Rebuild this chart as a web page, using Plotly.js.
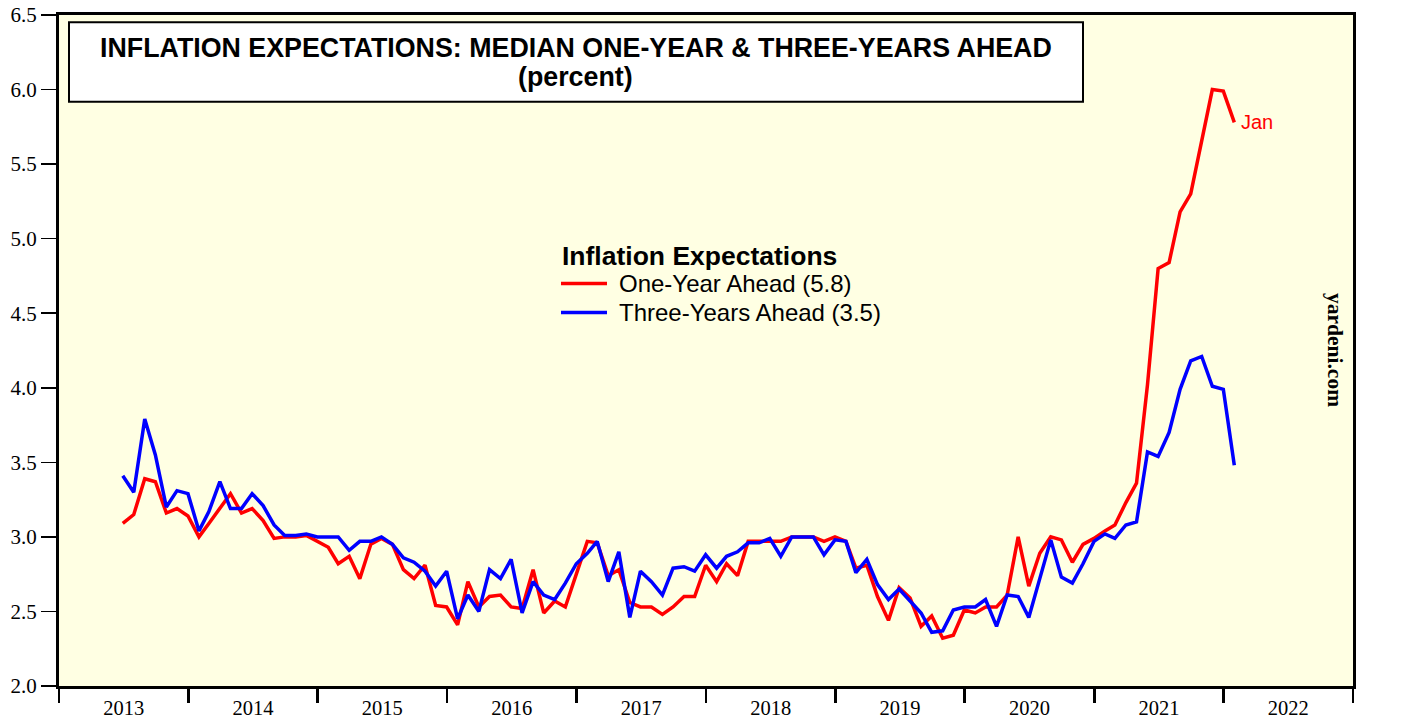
<!DOCTYPE html>
<html>
<head>
<meta charset="utf-8">
<script src="https://cdn.plot.ly/plotly-3.0.1.min.js"></script>
<style>html,body{margin:0;padding:0;background:#fff;}#chart{width:1419px;height:721px;}</style>
</head>
<body>
<div id="chart"></div>
<script>
// Monthly survey, June 2013 .. January 2022 (plotted at month end)
const startYear = 2013, startMonth = 6; // June 2013
const oneYearAhead = [
  3.09,3.15,3.39,3.37,3.16,3.19,3.14,
  3.00,3.09,3.19,3.29,3.16,3.19,3.11,2.99,3.00,3.00,3.01,2.97,
  2.93,2.82,2.87,2.72,2.95,2.99,2.95,2.78,2.72,2.81,2.54,2.53,
  2.41,2.70,2.53,2.60,2.61,2.53,2.52,2.78,2.49,2.57,2.53,2.75,
  2.97,2.96,2.74,2.78,2.56,2.53,2.53,2.48,2.53,2.60,2.60,2.81,
  2.70,2.82,2.74,2.97,2.97,2.97,2.97,3.00,3.00,3.00,2.97,3.00,
  2.97,2.79,2.81,2.60,2.44,2.66,2.59,2.40,2.47,2.32,2.34,2.51,
  2.49,2.53,2.53,2.61,3.00,2.67,2.89,3.00,2.98,2.83,2.95,2.99,
  3.04,3.08,3.23,3.36,4.02,4.80,4.84,5.18,5.30,5.66,6.00,5.99,
  5.78
];
const threeYearsAhead = [
  3.41,3.30,3.79,3.55,3.20,3.31,3.29,
  3.04,3.17,3.37,3.19,3.19,3.29,3.21,3.08,3.01,3.01,3.02,3.00,
  3.00,3.00,2.91,2.97,2.97,3.00,2.95,2.86,2.83,2.77,2.67,2.77,
  2.45,2.61,2.50,2.78,2.72,2.85,2.49,2.70,2.61,2.58,2.69,2.82,
  2.89,2.97,2.70,2.90,2.46,2.77,2.70,2.61,2.79,2.80,2.77,2.88,
  2.79,2.87,2.90,2.96,2.96,2.99,2.87,3.00,3.00,3.00,2.88,2.98,
  2.97,2.76,2.85,2.68,2.58,2.65,2.57,2.49,2.36,2.37,2.51,2.53,
  2.53,2.58,2.40,2.61,2.60,2.46,2.72,2.98,2.73,2.69,2.82,2.97,
  3.02,2.99,3.08,3.10,3.57,3.54,3.70,3.99,4.18,4.21,4.01,3.99,
  3.48
];
const seriesNames = ["One-Year Ahead (5.8)", "Three-Years Ahead (3.5)"];
const seriesColors = ["#FF0000", "#0000FF"];
const legendTitle = "Inflation Expectations";
const titleLine1 = "INFLATION EXPECTATIONS: MEDIAN ONE-YEAR & THREE-YEARS AHEAD";
const titleLine2 = "(percent)";
const lastLabel = "Jan";
const yTickVals = [2.0,2.5,3.0,3.5,4.0,4.5,5.0,5.5,6.0,6.5];

function monthEnd(i){
  const d = new Date(Date.UTC(startYear, startMonth - 1 + i + 1, 0));
  return d.toISOString().slice(0,10);
}
const months = oneYearAhead.map((_, i) => monthEnd(i));

const SANS = "Liberation Sans, Arial, sans-serif";
const SERIF = "Liberation Serif, Times New Roman, serif";

// plot area in pixels (for placing paper-referenced decorations)
const L = 59, R = 1353, T = 15, B = 686;
const px = v => (v - L) / (R - L);
const py = v => 1 - (v - T) / (B - T);

// the one-year series is drawn over the three-year one, as in the reference
const traces = [
  {x: months, y: threeYearsAhead, type: "scatter", mode: "lines", name: seriesNames[1],
   xaxis: "x2", yaxis: "y",
   line: {color: seriesColors[1], width: 3.5}, showlegend: false},
  {x: months, y: oneYearAhead, type: "scatter", mode: "lines", name: seriesNames[0],
   xaxis: "x", yaxis: "y",
   line: {color: seriesColors[0], width: 3.5}, showlegend: false}
];

const yCommon = {
  range: [2, 6.5], tickvals: yTickVals, tickformat: ".1f",
  ticks: "outside", ticklen: 15, tickwidth: 1.5, tickcolor: "#000",
  showgrid: false, zeroline: false,
  tickfont: {family: SERIF, size: 21, color: "#000"}
};
const xRange = ["2013-01-01", "2023-01-01"];

const legendRows = [283.5, 312.5];
const shapes = [
  {type: "rect", xref: "paper", yref: "paper",
   x0: px(69), x1: px(1083), y0: py(101.7), y1: py(22.3),
   fillcolor: "#FFFFFF", line: {color: "#000", width: 2}, layer: "above"}
];
const annotations = [
  {xref: "paper", yref: "paper", x: px(575.5), y: py(48.5),
   text: titleLine1, showarrow: false, xanchor: "center", yanchor: "middle",
   font: {family: SANS, size: 26.8, color: "#000", weight: "bold"}},
  {xref: "paper", yref: "paper", x: px(575.5), y: py(77),
   text: titleLine2, showarrow: false, xanchor: "center", yanchor: "middle",
   font: {family: SANS, size: 26.8, color: "#000", weight: "bold"}},
  {xref: "paper", yref: "paper", x: px(1335), y: py(350),
   text: "yardeni.com", textangle: 90, showarrow: false,
   xanchor: "center", yanchor: "middle",
   font: {family: SERIF, size: 21.5, color: "#000", weight: "bold"}},
  {xref: "x", yref: "y", x: months[months.length - 1], y: oneYearAhead[oneYearAhead.length - 1],
   text: lastLabel, showarrow: false, xanchor: "left", yanchor: "middle", xshift: 5,
   font: {family: SANS, size: 20, color: "#FF0000"}},
  {xref: "paper", yref: "paper", x: px(560), y: py(256),
   text: legendTitle, showarrow: false, xanchor: "left", yanchor: "middle",
   font: {family: SANS, size: 26.5, color: "#000", weight: "bold"}}
];
seriesNames.forEach((name, k) => {
  shapes.push({type: "line", xref: "paper", yref: "paper",
    x0: px(561), x1: px(607), y0: py(legendRows[k]), y1: py(legendRows[k]),
    line: {color: seriesColors[k], width: 3.5}, layer: "above"});
  annotations.push({xref: "paper", yref: "paper", x: px(617), y: py(legendRows[k]),
    text: name, showarrow: false, xanchor: "left", yanchor: "middle",
    font: {family: SANS, size: 24, color: "#000"}});
});

const layout = {
  width: 1419, height: 721,
  margin: {l: L, r: 1419 - R, t: T, b: 721 - B, pad: 0},
  paper_bgcolor: "#FFFFFF",
  plot_bgcolor: "#FFFFE3",
  showlegend: false,
  xaxis: {
    type: "date", range: xRange,
    tick0: "2013-01-01", dtick: "M12", tickformat: "%Y", ticklabelmode: "period",
    ticks: "", ticklabelstandoff: 1,
    showline: true, linewidth: 3, linecolor: "#000", mirror: true,
    showgrid: false, zeroline: false,
    tickfont: {family: SERIF, size: 20.5, color: "#000"}
  },
  xaxis2: {
    type: "date", range: xRange, overlaying: "x", side: "bottom", anchor: "y",
    tick0: "2013-01-01", dtick: "M12",
    ticks: "outside", ticklen: 16, tickwidth: 2.5, tickcolor: "#000",
    showticklabels: false, showline: false, showgrid: false, zeroline: false
  },
  yaxis: Object.assign({}, yCommon, {
    side: "left", showline: true, linewidth: 3, linecolor: "#000", mirror: true
  }),
  yaxis2: Object.assign({}, yCommon, {
    side: "right", overlaying: "y", showline: false
  }),
  shapes: shapes,
  annotations: annotations
};

Plotly.newPlot("chart", traces, layout, {displayModeBar: false, staticPlot: true});
</script>
</body>
</html>
